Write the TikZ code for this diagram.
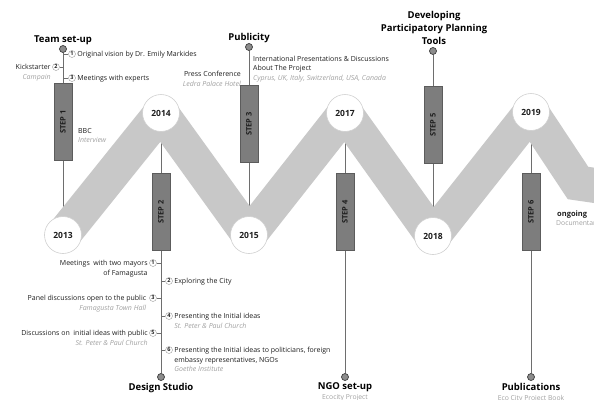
\documentclass[tikz,border=0pt]{standalone}
\usepackage{fontspec}
\setmainfont{Open Sans}
\usetikzlibrary{positioning,calc,backgrounds}
\definecolor{bandgray}{RGB}{200,200,200}
\definecolor{ringgray}{RGB}{208,208,208}
\definecolor{stemgray}{RGB}{110,110,110}
\definecolor{stepfill}{RGB}{125,125,125}
\definecolor{stepdraw}{RGB}{92,92,92}
\definecolor{dotfill}{RGB}{140,140,140}
\definecolor{dotdraw}{RGB}{60,60,60}
\definecolor{notegray}{RGB}{160,160,160}
\definecolor{inkgray}{RGB}{30,30,30}
\tikzset{
  % zigzag band
  band/.style={line width=35pt, bandgray, line cap=round, line join=round},
  % year circles
  year/.style={circle, draw=ringgray, line width=0.6pt, fill=white,
    minimum size=37pt, inner sep=0pt,
    font=\fontsize{8.5}{10}\selectfont\bfseries, text=inkgray},
  % vertical lines
  stem/.style={stemgray, line width=0.9pt},
  tick/.style={stemgray, line width=0.5pt},
  % step boxes
  stepbox/.style={draw=stepdraw, line width=0.6pt, fill=stepfill,
    minimum width=77pt, minimum height=18pt, inner sep=0pt, rotate=90,
    font=\fontsize{7.5}{9}\selectfont\bfseries, text=inkgray},
  pin/.style={circle, draw=dotdraw, fill=dotfill, line width=0.7pt,
    minimum size=7pt, inner sep=0pt},
  % texts
  head/.style={font=\fontsize{9.5}{13}\selectfont\bfseries, text=black,
    align=center, inner sep=0pt},
  note/.style={font=\fontsize{7}{9.5}\selectfont, text=inkgray, inner sep=0pt},
  sub/.style={font=\fontsize{6.8}{9.5}\selectfont, text=notegray, inner sep=0pt},
  num/.style={circle, draw=stemgray!70, line width=0.4pt, inner sep=0pt,
    minimum size=7pt, font=\fontsize{5.5}{5.5}\selectfont\bfseries, text=inkgray},
}
\newcommand{\place}[1]{{\itshape\color{notegray}#1}}

\begin{document}
\begin{tikzpicture}[x=1pt,y=-1pt]
  \useasboundingbox (0,0) rectangle (594,399);

  % years
  \node[year] (y2013) at (63,235) {2013};
  \node[year] (y2014) at (161,113) {2014};
  \node[year] (y2015) at (249,235) {2015};
  \node[year] (y2017) at (345,113) {2017};
  \node[year] (y2018) at (433,236) {2018};
  \node[year] (y2019) at (531,112) {2019};
  \coordinate (bend) at (578,183);
  \coordinate (bandend) at (640,192);

  % steps
  \node[stepbox] (s1) at (63,122) {STEP 1};
  \node[stepbox] (s2) at (161,212) {STEP 2};
  \node[stepbox] (s3) at (249,124) {STEP 3};
  \node[stepbox] (s4) at (345,212) {STEP 4};
  \node[stepbox] (s5) at (433,125) {STEP 5};
  \node[stepbox] (s6) at (531,212) {STEP 6};

  % end points
  \node[pin] (p1) at (63,49) {};
  \node[pin] (p2) at (161,377) {};
  \node[pin] (p3) at (249,47) {};
  \node[pin] (p4) at (345,377) {};
  \node[pin] (p5) at (433,51) {};
  \node[pin] (p6) at (531,377) {};

  % titles
  \node[head, anchor=base] (team) at (63,42) {Team set-up};
  \node[head, anchor=base] (publ) at (249,40) {Publicity};
  \node[head] (tools) at (434,28) {Developing\\Participatory Planning\\Tools};
  \node[head, anchor=base] (studio) at (161,390) {Design Studio};
  \node[head, anchor=base] (ngo) at (345,389) {NGO set-up};
  \node[sub, anchor=base] (ngosub) at (345,399.5) {Ecocity Project};
  \node[head, anchor=base] (books) at (531,390) {Publications};
  \node[sub, anchor=base] (bookssub) at (531,400) {Eco City Project Book};
  \node[note, anchor=base west, font=\fontsize{7.5}{9}\selectfont\bfseries] (ongo) at (557,216) {ongoing};
  \node[sub, anchor=base west] (docu) at (556,225) {Documentary};

  % step 1 notes
  \node[num] (a1) at (72,54) {1};
  \node[num] (a2) at (56,67) {2};
  \node[num] (a3) at (72,78) {3};
  \node[note, anchor=base west] (a1t) at ($(a1.east)+(1.5,2.5)$) {Original vision by Dr. Emily Markides};
  \node[note, anchor=base east, align=right] (a2t) at ($(a2.west)+(-1.5,12)$) {Kickstarter\\\place{Campain}};
  \node[note, anchor=base west] (a3t) at ($(a3.east)+(1.5,2.5)$) {Meetings with experts};
  \node[note, anchor=base west, align=left] (bbc) at (78,142.5) {BBC\\\place{Interview}};

  % step 2 notes
  \node[num] (b1) at (153,263) {1};
  \node[num] (b2) at (169,281) {2};
  \node[num] (b3) at (153,298) {3};
  \node[num] (b4) at (169,316) {4};
  \node[num] (b5) at (153,333) {5};
  \node[num] (b6) at (169,350) {6};
  \node[note, anchor=base east, align=right] (b1t) at ($(b1.west)+(-1.5,12)$) {Meetings\ \ with two mayors\\of Famagusta};
  \node[note, anchor=base west] (b2t) at ($(b2.east)+(1.5,2.5)$) {Exploring the City};
  \node[note, anchor=base east, align=right] (b3t) at ($(b3.west)+(-3,12)$) {Panel discussions open to the public\\\place{Famagusta Town Hall}};
  \node[note, anchor=base west, align=left] (b4t) at ($(b4.east)+(1.5,12)$) {Presenting the Initial ideas\\\place{St. Peter \& Paul Church}};
  \node[note, anchor=base east, align=right] (b5t) at ($(b5.west)+(-1.5,12)$) {Discussions on\ \ initial ideas with public\\\place{St. Peter \& Paul Church}};
  \node[note, anchor=base west, align=left] (b6t) at ($(b6.east)+(1.5,21.5)$) {Presenting the Initial ideas to politicians, foreign\\embassy representatives, NGOs\\\place{Goethe Institute}};

  % step 3 notes
  \node[note, anchor=base west, align=left] (c1t) at (253,80) {International Presentations \& Discussions\\About The Project\\\place{Cyprus, UK, Italy, Switzerland, USA, Canada}};
  \node[note, anchor=base east, align=right] (c2t) at (241,86) {Press Conference\\\place{Ledra Palace Hotel}};

  % ticks to the numbers
  \foreach \n/\s in {a1/s1,a2/s1,a3/s1,b1/s2,b2/s2,b3/s2,b4/s2,b5/s2,b6/s2}
    \draw[tick] (\n) -- (\n -| \s);

  \begin{scope}[on background layer]
    \clip (0,0) rectangle (594,399);
    % lines behind the band
    \draw[stem] (p1) -- (y2013.center);
    \draw[stem] (y2014.center) -- (p2);
    \draw[stem] (p3) -- (y2015.center);
    \draw[stem] (y2017.center) -- (p4);
    \draw[stem] (p5) -- (y2018.center);
    \draw[stem] (y2019.center) -- (p6);
    % the band
    \draw[band] (y2013.center) -- (y2014.center) -- (y2015.center)
      -- (y2017.center) -- (y2018.center) -- (y2019.center);
    \draw[band, line join=miter, line cap=butt] (y2019.center) -- (bend) -- (bandend);
  \end{scope}
\end{tikzpicture}
\end{document}
